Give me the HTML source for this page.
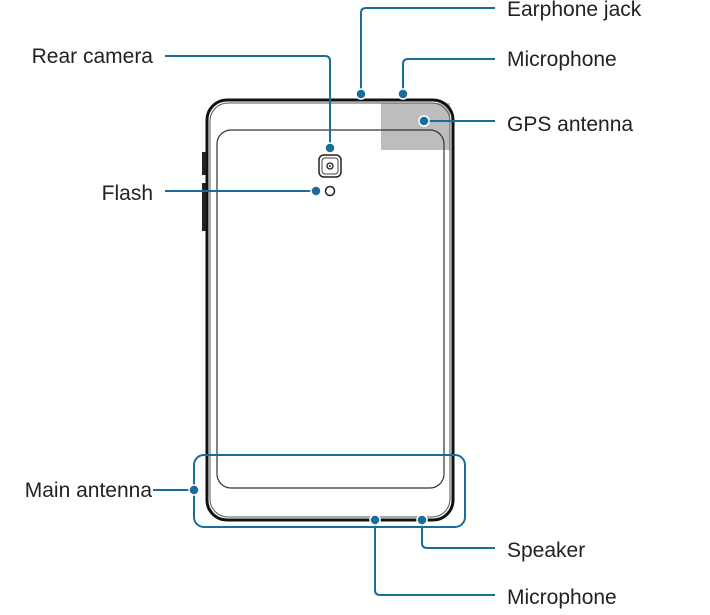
<!DOCTYPE html>
<html><head><meta charset="utf-8"><style>
html,body{margin:0;padding:0;background:#fff;}
svg{display:block;}
text{font-family:"Liberation Sans",sans-serif;font-size:21px;fill:#222;}
</style></head><body>
<svg width="710" height="615" viewBox="0 0 710 615" xmlns="http://www.w3.org/2000/svg">
<rect x="381" y="103" width="69" height="47" fill="#bdbdbd"/>
<rect x="207" y="100" width="246" height="420" rx="20" fill="none" stroke="#111" stroke-width="3"/>
<rect x="210" y="103" width="240" height="414" rx="18" fill="none" stroke="#555" stroke-width="1"/>
<rect x="217" y="130" width="227" height="358" rx="14" fill="none" stroke="#333" stroke-width="1.2"/>
<rect x="202" y="152" width="4" height="23" fill="#222"/>
<rect x="202" y="183" width="4" height="48" fill="#222"/>
<rect x="319" y="155" width="22" height="22" rx="5" fill="#fff" stroke="#222" stroke-width="1.5"/>
<rect x="322" y="158" width="16" height="16" rx="3" fill="none" stroke="#444" stroke-width="1"/>
<circle cx="330" cy="166" r="3" fill="none" stroke="#222" stroke-width="1.3"/>
<circle cx="330" cy="166" r="1" fill="#222"/>
<circle cx="330" cy="191" r="4.5" fill="#fff" stroke="#222" stroke-width="1.5"/>
<g fill="none" stroke="#1a6c99" stroke-width="2">
<path d="M165 56 H325 Q330 56 330 61 V148"/>
<path d="M165 191 H316"/>
<path d="M361 94 V13 Q361 8 366 8 H495"/>
<path d="M403 94 V64 Q403 59 408 59 H495"/>
<path d="M424 121 H495"/>
<rect x="194" y="455" width="271" height="72" rx="10"/>
<path d="M153 490 H194"/>
<path d="M375 520 V590 Q375 595 380 595 H495"/>
<path d="M422 520 V543 Q422 548 427 548 H495"/>
</g>
<g fill="#1a6c99" stroke="#fff" stroke-width="1.5">
<circle cx="330" cy="148" r="5"/>
<circle cx="316" cy="191" r="5"/>
<circle cx="361" cy="94" r="5"/>
<circle cx="403" cy="94" r="5"/>
<circle cx="424" cy="121" r="5"/>
<circle cx="194" cy="490" r="5"/>
<circle cx="375" cy="520" r="5"/>
<circle cx="422" cy="520" r="5"/>
</g>
<text x="153" y="63" text-anchor="end">Rear camera</text>
<text x="153" y="200" text-anchor="end">Flash</text>
<text x="152" y="497" text-anchor="end">Main antenna</text>
<text x="507" y="16">Earphone jack</text>
<text x="507" y="66">Microphone</text>
<text x="507" y="131">GPS antenna</text>
<text x="507" y="557">Speaker</text>
<text x="507" y="604">Microphone</text>
</svg>
</body></html>
